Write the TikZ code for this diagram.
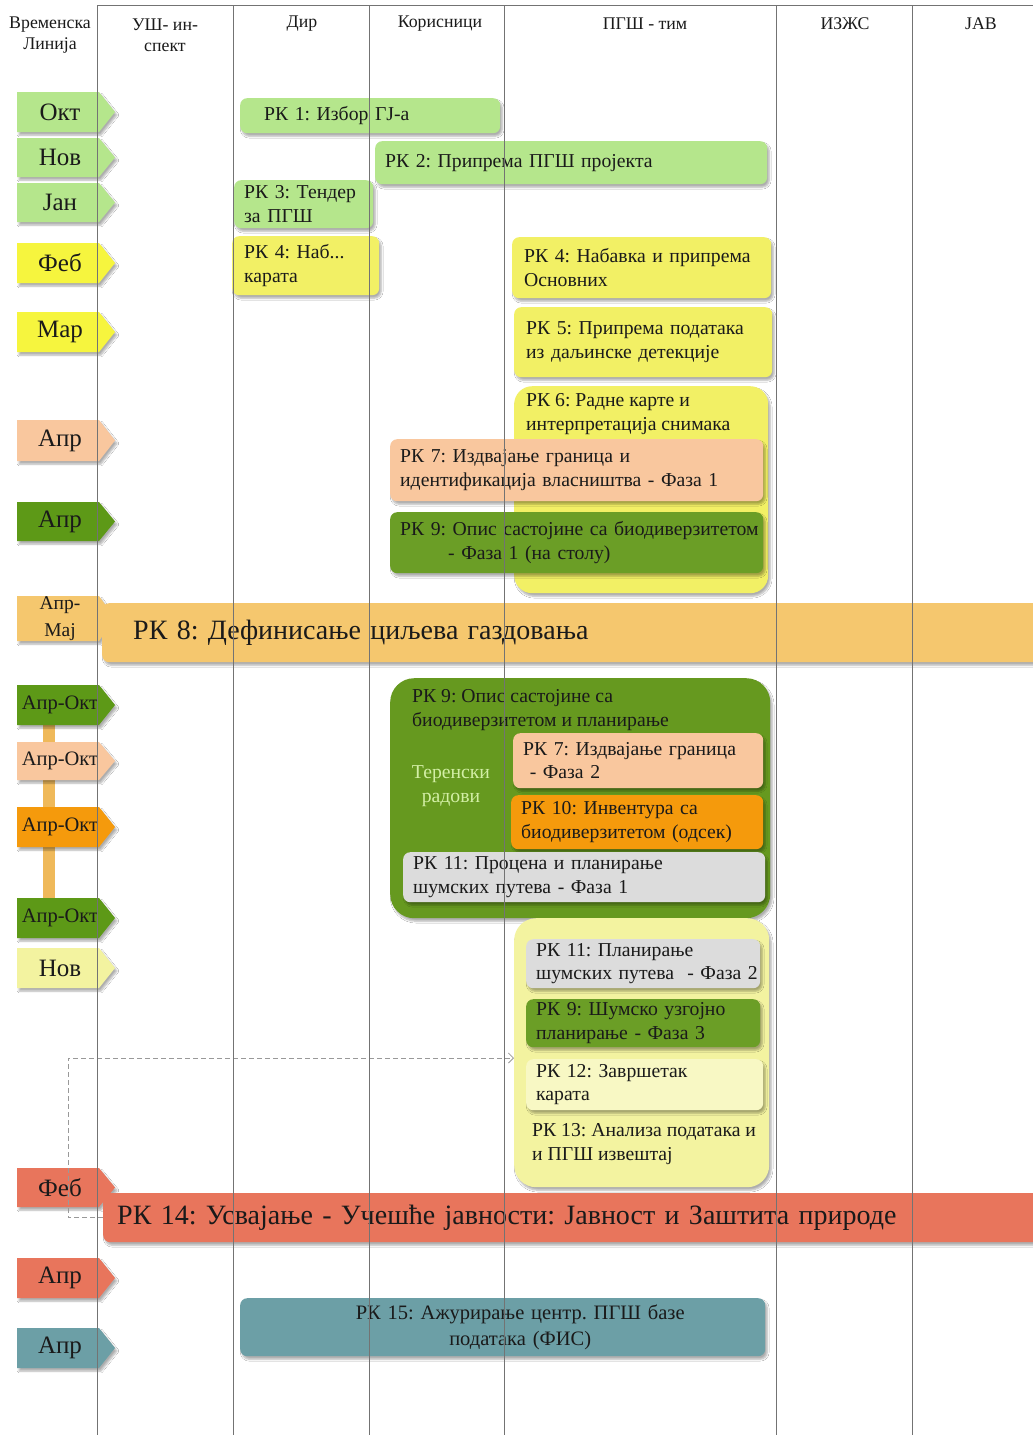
\documentclass[tikz,border=0pt]{standalone}
\usepackage{fontspec}
\setmainfont{Liberation Serif}
\usetikzlibrary{shadows.blur,arrows.meta}

\definecolor{lgreen}{HTML}{B5E68C}
\definecolor{yeltag}{HTML}{F6F53E}
\definecolor{yelbox}{HTML}{F2F065}
\definecolor{peach}{HTML}{F9C79E}
\definecolor{dgreen}{HTML}{5D9917}
\definecolor{mgreen}{HTML}{66991F}
\definecolor{igreen}{HTML}{6B9E26}
\definecolor{lorange}{HTML}{F5C76E}
\definecolor{orng}{HTML}{F59A0C}
\definecolor{gry}{HTML}{DCDCDC}
\definecolor{lyel}{HTML}{F3F3A0}
\definecolor{pyel}{HTML}{F8F8C4}
\definecolor{coral}{HTML}{E8755C}
\definecolor{tealc}{HTML}{6C9FA6}
\definecolor{barc}{HTML}{EFB95A}
\definecolor{terc}{HTML}{D3EFA6}
\definecolor{txtc}{HTML}{1A1A1A}

\tikzset{
  shad/.style={blur shadow={shadow xshift=2pt,shadow yshift=-3pt,shadow blur steps=6,shadow opacity=32}},
  vline/.style={draw=black!55, line width=0.7pt},
  hdr/.style={font=\fontsize{17.8}{21}\selectfont, align=center, text=txtc, inner sep=0pt},
  tagshape/.style={shad},
  taglbl/.style={font=\fontsize{25}{26}\selectfont, text=txtc, inner sep=0pt, align=center},
  tagsmall/.style={font=\fontsize{20.5}{27}\selectfont},
  tagtwo/.style={font=\fontsize{19.5}{27}\selectfont},
  task/.style={anchor=north west, rounded corners=7pt, inner xsep=10pt, inner ysep=0pt,
    align=left, font=\fontsize{19.7}{23.5}\selectfont, text=txtc, shad},
  ctxt/.style={anchor=west, inner sep=0pt, align=left, font=\fontsize{19.7}{23.5}\selectfont, text=txtc},
  dashc/.style={draw=black!40, line width=0.8pt, dash pattern=on 5pt off 3pt,
    -{Straight Barb[length=5pt,width=10pt]}}
}

% name, ytop, ybottom, colour, extra style, text
\newcommand\tagbox[6]{%
  \path[tagshape, fill=#4] (17,#2) -- (99,#2) -- (115,{(#2+#3)/2}) -- (99,#3) -- (17,#3) -- cycle;
  \node[taglbl, #5] (#1) at (60,{(#2+#3)/2}) {#6};}

% name, x1, y1, x2, y2, fill, extra style, text
\newcommand\taskbox[8]{%
  \pgfmathsetmacro\tbwd{#4-#2}%
  \pgfmathsetmacro\tbht{#5-#3}%
  \pgfmathsetmacro\tbtw{#4-#2-20}%
  \node[task, fill=#6, minimum width=\tbwd pt, minimum height=\tbht pt, text width=\tbtw pt, #7] (#1) at (#2,#3) {#8};}

\begin{document}
\frenchspacing
\begin{tikzpicture}[x=1pt,y=-1pt]
\useasboundingbox[fill=white] (0,0) rectangle (1033,1435);

% headers
\node[hdr] (h0) at (50,35) {Временска\\Линија};
\node[hdr] (h1) at (165,35) {УШ- ин-\\спект};
\node[hdr] (h2) at (302,24) {Дир};
\node[hdr] (h3) at (440,24) {Корисници};
\node[hdr] (h4) at (645,24) {ПГШ - тим};
\node[hdr] (h5) at (845,24) {ИЗЖС};
\node[hdr] (h6) at (981,24) {ЈАВ};

% vertical bar behind the Апр-Окт tags
\path[fill=barc] (43,720) rectangle (55,902);

% timeline tags
\tagbox{t1}{92}{132}{lgreen}{}{Окт}
\tagbox{t2}{138}{177}{lgreen}{}{Нов}
\tagbox{t3}{183}{222}{lgreen}{}{Јан}
\tagbox{t4}{243}{283}{yeltag}{}{Феб}
\tagbox{t5}{312}{352}{yeltag}{}{Мар}
\tagbox{t6}{420}{461}{peach}{}{Апр}
\tagbox{t7}{502}{541}{dgreen}{}{Апр}
\tagbox{t8}{596}{641}{lorange}{tagtwo}{Апр-\\Мај}
\tagbox{t9}{685}{725}{dgreen}{tagsmall}{Апр-Окт}
\tagbox{t10}{742}{780}{peach}{tagsmall}{Апр-Окт}
\tagbox{t11}{807}{847}{orng}{tagsmall}{Апр-Окт}
\tagbox{t12}{898}{938}{dgreen}{tagsmall}{Апр-Окт}
\tagbox{t13}{948}{988}{lyel}{}{Нов}
\tagbox{t14}{1168}{1207}{coral}{}{Феб}
\tagbox{t15}{1258}{1298}{coral}{}{Апр}
\tagbox{t16}{1328}{1368}{tealc}{}{Апр}

% tasks
\taskbox{rk1}{240}{98}{500}{133}{lgreen}{}{\hspace*{14pt}\mbox{РК 1: Избор ГЈ-а}}
\taskbox{rk2}{375}{141}{767}{184}{lgreen}{inner xsep=8pt}{\mbox{РК 2: Припрема ПГШ пројекта}}
\taskbox{rk3}{234}{180}{373}{228}{lgreen}{}{\mbox{РК 3: Тендер}\\\mbox{за ПГШ}}
\taskbox{rk4a}{232}{236}{375}{295}{yelbox}{inner xsep=12pt}{\mbox{РК 4: Наб...}\\\mbox{карата}}
\taskbox{rk4b}{512}{237}{767}{298}{yelbox}{inner xsep=12pt}{\mbox{РК 4: Набавка и припрема}\\\mbox{Основних}}
\taskbox{rk5}{514}{307}{768}{377}{yelbox}{inner xsep=12pt}{\mbox{РК 5: Припрема података}\\\mbox{из даљинске детекције}}
\taskbox{rk6}{514}{386}{768}{593}{yelbox}{rounded corners=18pt}{}
\node[ctxt] (rk6t) at (526,414) {\mbox{РК 6: Радне карте и}\\\mbox{интерпретација снимака}};
\taskbox{rk7a}{390}{439}{763}{501}{peach}{inner xsep=9pt}{\mbox{РК 7: Издвајање граница и}\\\mbox{идентификација власништва - Фаза 1}}
\taskbox{rk9a}{390}{512}{763}{573}{igreen}{inner xsep=9pt}{\mbox{РК 9: Опис састојине са биодиверзитетом}\\\hspace*{48pt}\mbox{- Фаза 1 (на столу)}}

\taskbox{rk8}{102}{603}{1045}{662}{lorange}{inner xsep=31pt, font=\fontsize{28}{30}\selectfont}{\mbox{РК 8: Дефинисање циљева газдовања}}

\taskbox{rk9}{390}{678}{770}{918}{mgreen}{rounded corners=24pt}{}
\node[ctxt] (rk9t) at (412,710) {\mbox{РК 9: Опис састојине са}\\\mbox{биодиверзитетом и планирање}};
\node[ctxt, anchor=center, align=center, text=terc] (ter) at (451,786) {Теренски\\радови};
\taskbox{rk7b}{513}{733}{763}{788}{peach}{}{\mbox{РК 7: Издвајање граница}\\\mbox{\ - Фаза 2}}
\taskbox{rk10}{511}{795}{763}{849}{orng}{}{\mbox{РК 10: Инвентура са}\\\mbox{биодиверзитетом (одсек)}}
\taskbox{rk11a}{403}{852}{765}{902}{gry}{}{\mbox{РК 11: Процена и планирање}\\\mbox{шумских путева - Фаза 1}}

\taskbox{cont3}{514}{918}{769}{1187}{lyel}{rounded corners=22pt}{}
\taskbox{rk11b}{526}{939}{760}{988}{gry}{inner xsep=6pt}{\mbox{РК 11: Планирање}\\\mbox{шумских путева\ \ - Фаза 2}}
\taskbox{rk9c}{526}{999}{760}{1047}{igreen}{inner xsep=6pt}{\mbox{РК 9: Шумско узгојно}\\\mbox{планирање - Фаза 3}}
\taskbox{rk12}{526}{1059}{763}{1110}{pyel}{inner xsep=6pt}{\mbox{РК 12: Завршетак}\\\mbox{карата}}
\node[ctxt] (rk13) at (532,1144) {\mbox{РК 13: Анализа података и}\\\mbox{и ПГШ извештај}};

\taskbox{rk14}{103}{1193}{1045}{1242}{coral}{inner xsep=14pt, font=\fontsize{28}{30}\selectfont}{\mbox{РК 14: Усвајање - Учешће јавности: Јавност и Заштита природе}}

% dashed connector
\coordinate (dbend) at (68,1058);
\draw[dashc] (rk14.west) -| (dbend) -- (dbend -| cont3.west);

\taskbox{rk15}{240}{1298}{765}{1356}{tealc}{align=center, font=\fontsize{20.5}{26}\selectfont}{\hspace*{35pt}\mbox{РК 15: Ажурирање центр. ПГШ базе}\\\hspace*{35pt}\mbox{података (ФИС)}}

% column lines (on top)
\draw[vline] (97,5) -- (1033,5);
\foreach \xx in {97,233,369,504,776,912} {\draw[vline] (\xx,5) -- (\xx,1435);}
\end{tikzpicture}
\end{document}
